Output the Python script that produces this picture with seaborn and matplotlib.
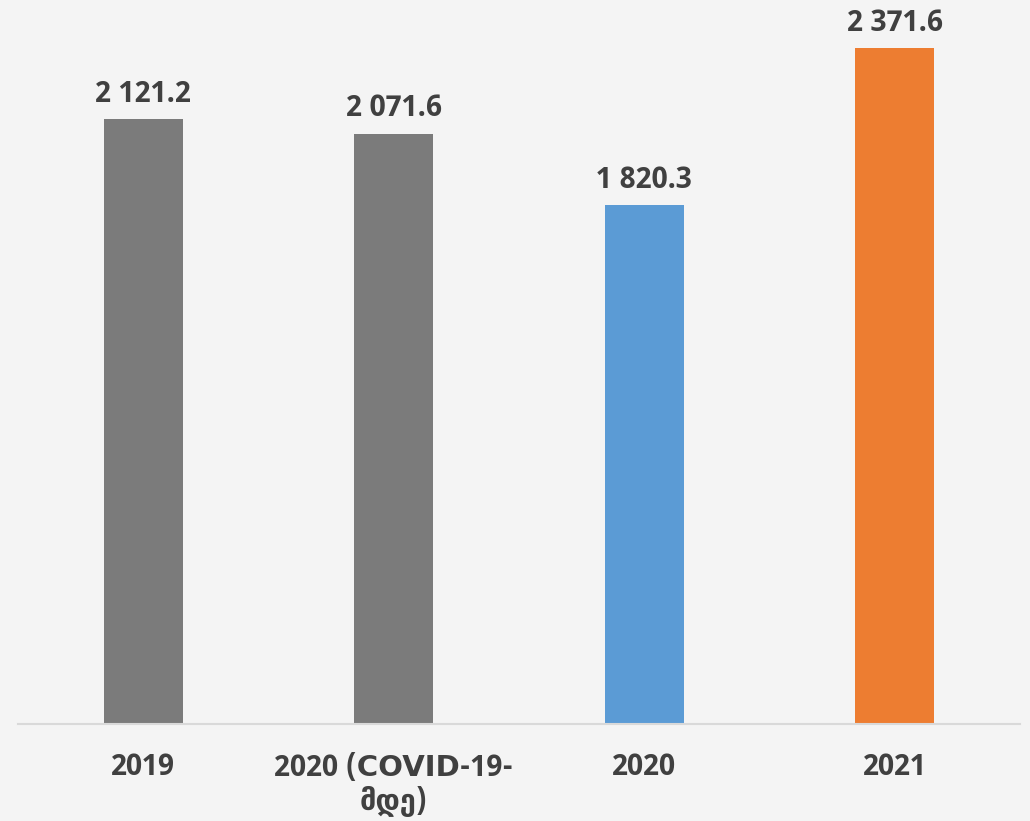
import matplotlib
matplotlib.use("Agg")
import matplotlib.pyplot as plt
import seaborn as sns
import pandas as pd

# Data
categories = ["2019", "2020 (COVID-19-\nმდე)", "2020", "2021"]
values = [2121.2, 2071.6, 1820.3, 2371.6]
labels = ["2 121.2", "2 071.6", "1 820.3", "2 371.6"]
colors = ["#7b7b7b", "#7b7b7b", "#5b9bd5", "#ed7d31"]

sns.set_theme(style="white")
plt.rcParams["font.family"] = ["Noto Sans Devanagari UI", "DejaVu Sans"]

bg = "#f4f4f4"
text_color = "#404040"

fig = plt.figure(figsize=(10.30, 8.21), dpi=100, facecolor=bg)
ax = fig.add_axes([18 / 1030, 97 / 821, 1002 / 1030, 724 / 821])
ax.set_facecolor(bg)

df = pd.DataFrame({"cat": categories, "val": values})
sns.barplot(data=df, x="cat", y="val", hue="cat", palette=colors,
            width=0.315, legend=False, ax=ax, saturation=1, linewidth=0)

ax.set_ylim(0, 2540)
ax.set_xlim(-0.5, len(categories) - 0.5)

for i, (v, lab) in enumerate(zip(values, labels)):
    ax.annotate(lab, xy=(i, v), xytext=(0, 8), textcoords="offset points",
                ha="center", va="bottom", fontsize=21, fontweight="bold",
                color=text_color)

ax.set_xlabel("")
ax.set_ylabel("")
ax.set_yticks([])
ax.tick_params(axis="x", length=0, pad=21)
for t in ax.get_xticklabels():
    t.set_fontsize(21)
    t.set_fontweight("bold")
    t.set_color(text_color)
    t.set_linespacing(1.15)

for s in ["top", "right", "left"]:
    ax.spines[s].set_visible(False)
ax.spines["bottom"].set_color("#d9d9d9")
ax.spines["bottom"].set_linewidth(1.5)

fig.savefig("out.png", dpi=100, facecolor=bg)
